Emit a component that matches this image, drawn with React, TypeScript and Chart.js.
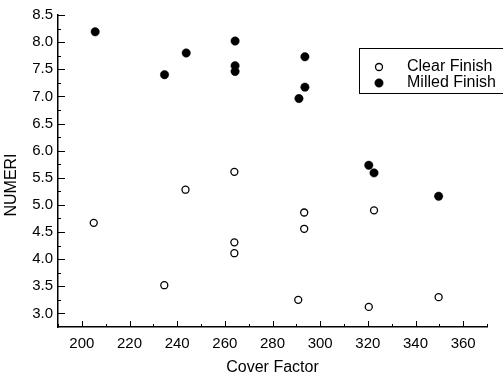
import React, { useEffect, useRef } from "react";
import { Chart, registerables } from "chart.js";

Chart.register(...registerables);

const clearX = [205, 243.5, 264, 264, 264, 234.6, 293.3, 293.3, 290.8, 322.6, 320.4, 349.7];
const clearY = [4.67, 5.28, 5.61, 4.31, 4.11, 3.52, 4.86, 4.56, 3.25, 4.9, 3.12, 3.3];
const milledX = [205.6, 234.7, 243.8, 264.3, 264.3, 264.3, 293.6, 293.6, 291.1, 320.4, 322.6, 349.7];
const milledY = [8.19, 7.4, 7.8, 8.02, 7.565, 7.46, 7.73, 7.17, 6.96, 5.73, 5.59, 5.16];
const xTickLabels = [200, 220, 240, 260, 280, 300, 320, 340, 360];
const yTickLabels = [3.0, 3.5, 4.0, 4.5, 5.0, 5.5, 6.0, 6.5, 7.0, 7.5, 8.0, 8.5];
const seriesNames = ["Clear Finish", "Milled Finish"];
const xTitle = "Cover Factor";
const yTitle = "NUMERI";

const FONT = "'Liberation Sans', Arial, sans-serif";

const decorPlugin = {
  id: "decor",
  afterDraw(chart: any) {
    const ctx = chart.ctx;
    const xs = chart.scales.x;
    const ys = chart.scales.y;
    const area = chart.chartArea;
    ctx.save();
    ctx.strokeStyle = "#000";
    ctx.lineWidth = 1;
    for (let v = 190; v <= 370; v += 10) {
      const px = Math.round(xs.getPixelForValue(v)) + 0.5;
      const len = v % 20 === 0 ? 6 : 3;
      ctx.beginPath();
      ctx.moveTo(px, area.bottom);
      ctx.lineTo(px, area.bottom - len);
      ctx.stroke();
    }
    for (let v = 3.0; v <= 8.5001; v += 0.25) {
      const py = Math.round(ys.getPixelForValue(v)) + 0.5;
      const major = Math.abs(v * 2 - Math.round(v * 2)) < 1e-6;
      const len = major ? 7 : 3;
      ctx.beginPath();
      ctx.moveTo(area.left, py);
      ctx.lineTo(area.left + len, py);
      ctx.stroke();
    }
    ctx.fillStyle = "#000";
    ctx.font = `16px ${FONT}`;
    ctx.textAlign = "center";
    ctx.textBaseline = "middle";
    ctx.fillText(xTitle, (area.left + area.right) / 2, 368);
    ctx.save();
    ctx.translate(12, 185);
    ctx.rotate(-Math.PI / 2);
    ctx.fillText(yTitle, 0, 0);
    ctx.restore();
    ctx.lineWidth = 1;
    ctx.strokeStyle = "#000";
    ctx.strokeRect(359.5, 48.5, 160, 45);
    const rows = [67, 83];
    chart.data.datasets.forEach((ds: any, i: number) => {
      const y = rows[i];
      ctx.beginPath();
      ctx.arc(379, y, ds.pointRadius, 0, Math.PI * 2);
      ctx.fillStyle = ds.pointBackgroundColor;
      ctx.fill();
      ctx.lineWidth = ds.pointBorderWidth;
      ctx.strokeStyle = ds.pointBorderColor;
      ctx.stroke();
      ctx.fillStyle = "#000";
      ctx.textAlign = "left";
      ctx.font = `16px ${FONT}`;
      ctx.fillText(ds.label, 407, y);
    });
    ctx.restore();
  },
};

export default function App() {
  const ref = useRef<HTMLCanvasElement>(null);
  useEffect(() => {
    if (!ref.current) return;
    const chart = new Chart(ref.current, {
      type: "scatter",
      data: {
        datasets: [
          {
            label: seriesNames[0],
            data: clearX.map((x, i) => ({ x, y: clearY[i] })),
            pointRadius: 3.5,
            pointBackgroundColor: "#ffffff",
            pointBorderColor: "#000000",
            pointBorderWidth: 1.3,
          },
          {
            label: seriesNames[1],
            data: milledX.map((x, i) => ({ x, y: milledY[i] })),
            pointRadius: 4.2,
            pointBackgroundColor: "#000000",
            pointBorderColor: "#000000",
            pointBorderWidth: 0.5,
          },
        ],
      },
      options: {
        animation: false,
        responsive: false,
        layout: { padding: { top: 15, right: 16, left: 0, bottom: 0 } },
        plugins: { legend: { display: false }, tooltip: { enabled: false } },
        scales: {
          x: {
            type: "linear",
            min: 190,
            max: 370,
            grid: { display: false, drawTicks: false },
            border: { display: true, color: "#000", width: 1.5 },
            afterBuildTicks: (s: any) => {
              s.ticks = xTickLabels.map((v) => ({ value: v }));
            },
            afterFit: (s: any) => {
              s.height = 51;
            },
            ticks: {
              color: "#000",
              font: { family: FONT, size: 15 },
              padding: 8,
              maxRotation: 0,
              callback: (v: any) => String(v),
            },
          },
          y: {
            type: "linear",
            min: 2.75,
            max: 8.5,
            grid: { display: false, drawTicks: false },
            border: { display: true, color: "#000", width: 1.5 },
            afterBuildTicks: (s: any) => {
              s.ticks = yTickLabels.map((v) => ({ value: v }));
            },
            afterFit: (s: any) => {
              s.width = 58;
            },
            ticks: {
              color: "#000",
              font: { family: FONT, size: 15 },
              padding: 5,
              callback: (v: any) => Number(v).toFixed(1),
            },
          },
        },
      },
      plugins: [decorPlugin],
    });
    return () => chart.destroy();
  }, []);
  return (
    <div style={{ position: "fixed", left: 0, top: 0, width: 503, height: 378, background: "#fff" }}>
      <canvas ref={ref} width={503} height={378} style={{ width: 503, height: 378 }} />
    </div>
  );
}
